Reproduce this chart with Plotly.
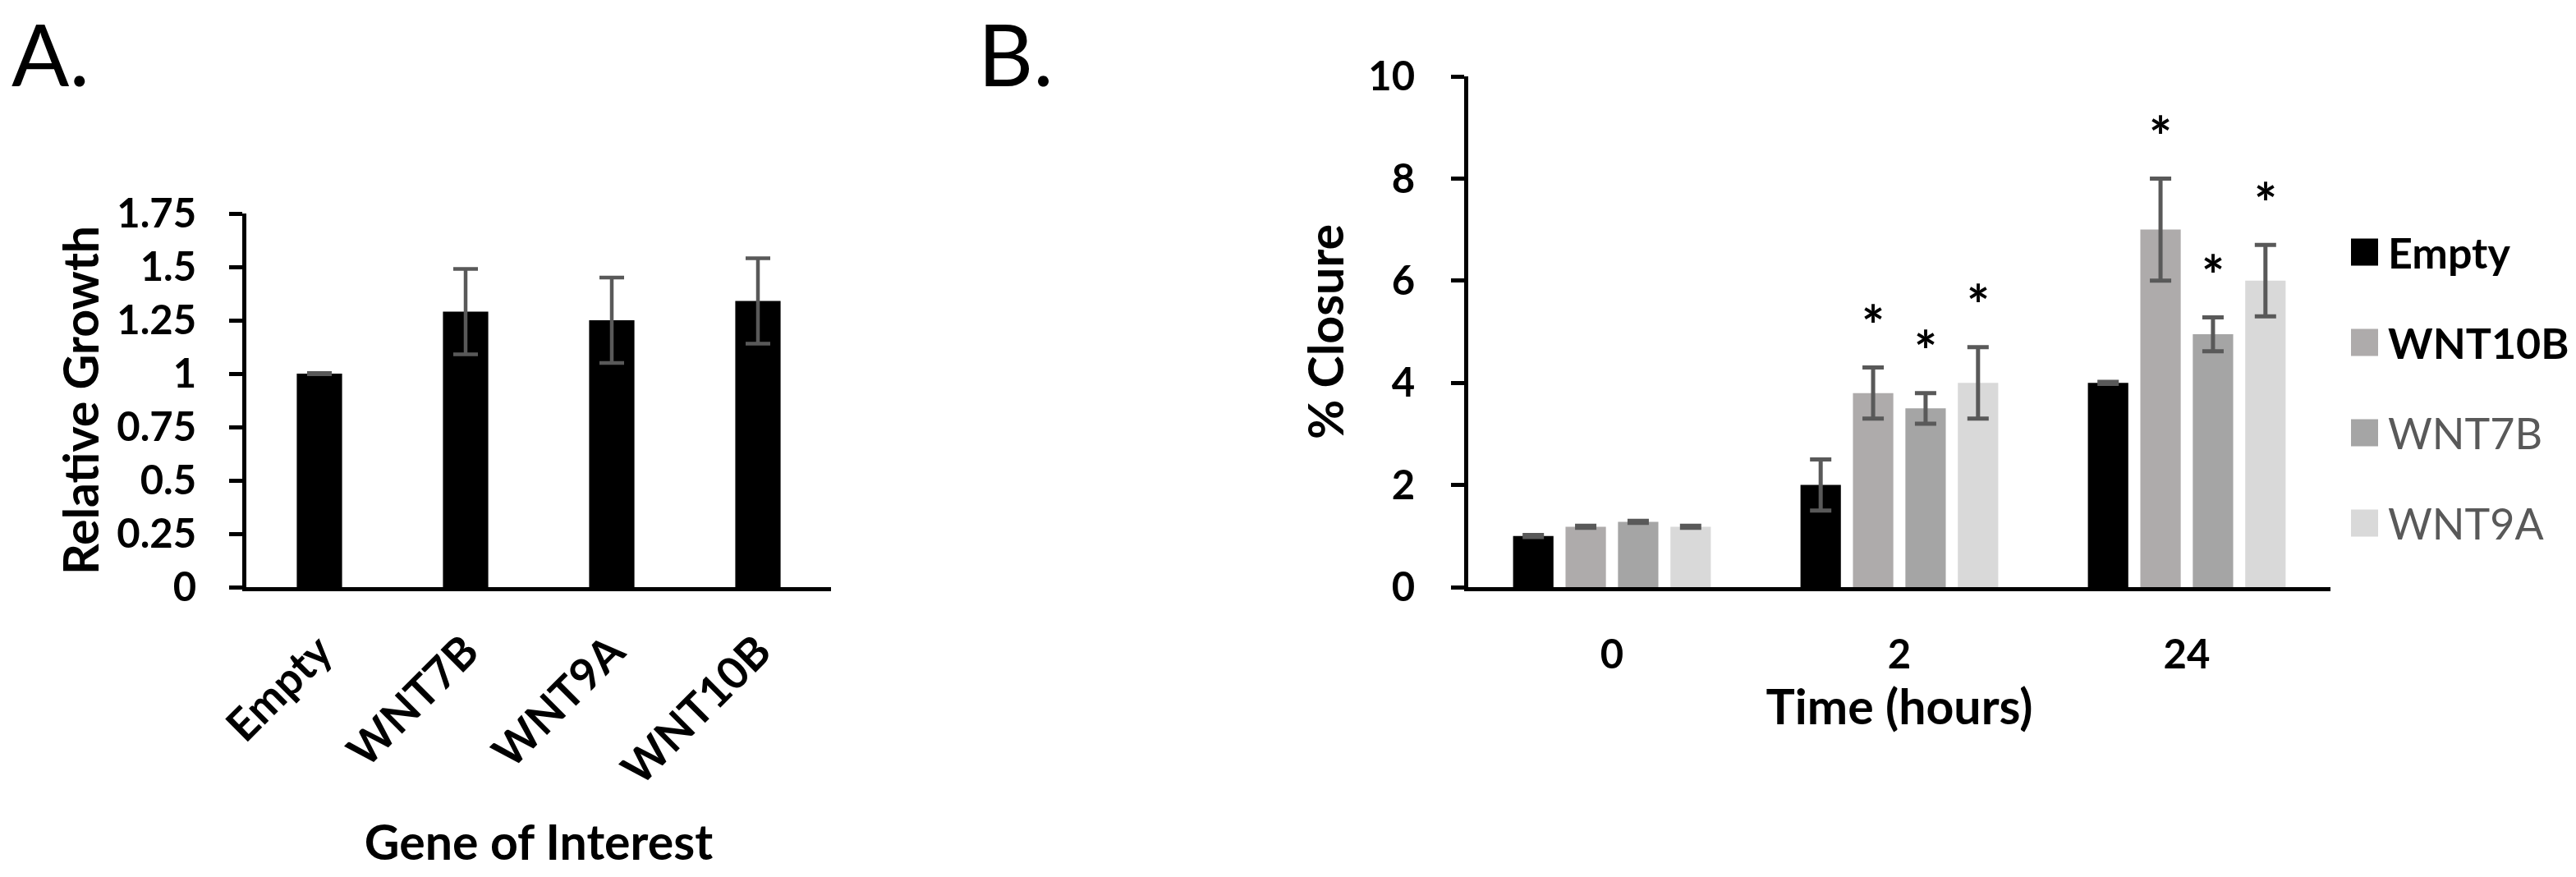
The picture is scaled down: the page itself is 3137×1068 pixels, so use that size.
import plotly.graph_objects as go

# canvas size of the reference
W, H = 3137, 1068

# Panel A: relative growth per gene
genes = ["Empty", "WNT7B", "WNT9A", "WNT10B"]
growth = [1.0, 1.29, 1.25, 1.34]
growth_err = [0.003, 0.2, 0.2, 0.2]

# Panel B: % closure over time
times = ["0", "2", "24"]
series = ["Empty", "WNT10B", "WNT7B", "WNT9A"]
closure_empty = [1.0, 2.0, 4.0]
closure_empty_err = [0.02, 0.5, 0.02]
closure_wnt10b = [1.18, 3.8, 7.0]
closure_wnt10b_err = [0.02, 0.5, 1.0]
closure_wnt7b = [1.28, 3.5, 4.95]
closure_wnt7b_err = [0.02, 0.3, 0.33]
closure_wnt9a = [1.18, 4.0, 6.0]
closure_wnt9a_err = [0.02, 0.7, 0.7]
# significance markers (*) per series and time point
sig_empty = [False, False, False]
sig_wnt10b = [False, True, True]
sig_wnt7b = [False, True, True]
sig_wnt9a = [False, True, True]

values = [closure_empty, closure_wnt10b, closure_wnt7b, closure_wnt9a]
errors = [closure_empty_err, closure_wnt10b_err, closure_wnt7b_err, closure_wnt9a_err]
sigs = [sig_empty, sig_wnt10b, sig_wnt7b, sig_wnt9a]
colors = ["#000000", "#AEABAB", "#A5A5A5", "#D9D9D9"]
legend_bold = [True, True, False, False]

FONT = "Lato"
ERR_COLOR = "#595959"
B_GAP = 0.27


def px(x):
    return x / W


def py(y):
    return 1 - y / H


fig = go.Figure()

fig.add_trace(go.Bar(
    x=genes, y=growth, marker_color="#000000", marker_line_width=0, width=0.31,
    error_y=dict(type="data", array=growth_err, color=ERR_COLOR, thickness=4.5, width=15),
    xaxis="x", yaxis="y", showlegend=False,
))

for name, vals, errs, col in zip(series, values, errors, colors):
    fig.add_trace(go.Bar(
        x=times, y=vals, name=name, marker_color=col, marker_line_width=0,
        error_y=dict(type="data", array=errs, color=ERR_COLOR, thickness=5, width=13),
        xaxis="x2", yaxis="y2", showlegend=False,
    ))

annotations = []
# significance stars above error bars
slot = (1 - B_GAP) / len(series)
for si, (vals, errs, sig) in enumerate(zip(values, errors, sigs)):
    for ti, flag in enumerate(sig):
        if flag:
            annotations.append(dict(
                x=ti + (si - 1.5) * slot, y=vals[ti] + errs[ti], xref="x2", yref="y2",
                text="*", showarrow=False, yanchor="middle", yshift=52,
                font=dict(family=FONT, size=66, color="#000000", weight="bold"),
            ))

# manual legend with large swatches
shapes = []
for i, (name, col, bold) in enumerate(zip(series, colors, legend_bold)):
    cy = 307 + i * 110
    shapes.append(dict(
        type="rect", xref="paper", yref="paper",
        x0=px(2863), x1=px(2896), y0=py(cy + 16.5), y1=py(cy - 16.5),
        fillcolor=col, line_width=0,
    ))
    annotations.append(dict(
        x=px(2906), y=py(cy), xref="paper", yref="paper", xanchor="left", yanchor="middle",
        text=name, showarrow=False,
        font=dict(family=FONT, size=52, color="#000000" if bold else ERR_COLOR,
                  weight="bold" if bold else "normal"),
    ))

# panel letters
annotations.append(dict(x=px(12), y=1, xref="paper", yref="paper", xanchor="left",
                        yanchor="top", text="A.", showarrow=False,
                        font=dict(family=FONT, size=104, color="#000000")))
annotations.append(dict(x=px(1189), y=1, xref="paper", yref="paper", xanchor="left",
                        yanchor="top", text="B.", showarrow=False,
                        font=dict(family=FONT, size=104, color="#000000")))

tick_font = dict(family=FONT, size=49, color="#000000", weight="bold")
title_font = dict(family=FONT, size=59, color="#000000", weight="bold")
axis_common = dict(showgrid=False, zeroline=False, showline=True, linecolor="#000000",
                   linewidth=5, automargin=False)

fig.update_layout(
    width=W, height=H, margin=dict(l=0, r=0, t=0, b=0, autoexpand=False),
    paper_bgcolor="#FFFFFF", plot_bgcolor="#FFFFFF",
    barmode="group", bargap=B_GAP, bargroupgap=0.23,
    font=dict(family=FONT, color="#000000"),
    xaxis=dict(domain=[px(300), px(1012)], anchor="y", type="category",
               ticks="", tickangle=-45, ticklabelstandoff=20,
               tickfont=dict(family=FONT, size=54, color="#000000", weight="bold"),
               title=dict(text="Gene of Interest", font=title_font, standoff=41),
               **axis_common),
    yaxis=dict(domain=[py(715), py(260)], anchor="x", range=[0, 1.75], dtick=0.25,
               ticks="outside", ticklen=16, tickwidth=5, tickcolor="#000000",
               ticklabelstandoff=30, tickfont=tick_font,
               title=dict(text="Relative Growth", font=title_font, standoff=4),
               **axis_common),
    xaxis2=dict(domain=[px(1788), px(2838)], anchor="y2", type="category",
                ticks="", ticklabelstandoff=35, tickfont=tick_font,
                title=dict(text="Time (hours)", font=title_font, standoff=4),
                **axis_common),
    yaxis2=dict(domain=[py(715), py(93)], anchor="x2", range=[0, 10], dtick=2,
                ticks="outside", ticklen=16, tickwidth=5, tickcolor="#000000",
                ticklabelstandoff=34, tickfont=tick_font,
                title=dict(text="% Closure", font=title_font, standoff=12),
                **axis_common),
    annotations=annotations,
    shapes=shapes,
)

# drop the browser's default page margin so the figure sits at the window origin
fig.write_html("out.html", config={"displayModeBar": False},
               post_script="document.body.style.margin = '0';")
